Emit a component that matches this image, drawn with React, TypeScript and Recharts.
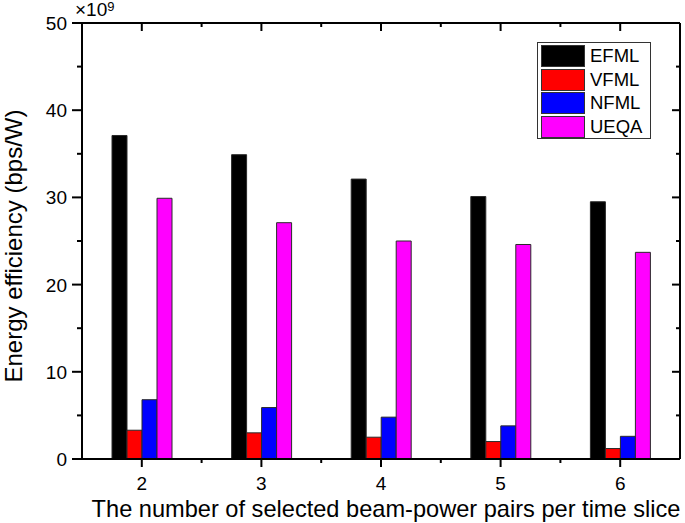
import React from "react";
import { BarChart, Bar, XAxis, YAxis } from "recharts";

const categories = ["2", "3", "4", "5", "6"];
const efml = [37.1, 34.9, 32.1, 30.1, 29.5];
const vfml = [3.3, 3.0, 2.5, 2.0, 1.2];
const nfml = [6.8, 5.9, 4.8, 3.8, 2.6];
const ueqa = [29.9, 27.1, 25.0, 24.6, 23.7];
const yTicks = [0, 5, 10, 15, 20, 25, 30, 35, 40, 45, 50];

const series = [
  { key: "EFML", color: "#000000" },
  { key: "VFML", color: "#ff0000" },
  { key: "NFML", color: "#0000ff" },
  { key: "UEQA", color: "#ff00ff" },
];

const data = categories.map((c, i) => ({
  k: c,
  EFML: efml[i],
  VFML: vfml[i],
  NFML: nfml[i],
  UEQA: ueqa[i],
}));

const FONT = "'Liberation Sans', Arial, sans-serif";
const SW = 2;
// plot frame edges (chart size minus margins/axis sizes)
const PLOT_TOP = 23;
const PLOT_RIGHT = 680;

const BottomTick = (props: any) => {
  const { x, y, payload, index } = props;
  const off = payload?.offset || 59.8;
  const last = index >= categories.length - 1;
  return (
    <g>
      <path d={`M${x},${y}V${y + 8}`} stroke="#000" strokeWidth={SW} fill="none" />
      {!last && <path d={`M${x + off},${y}V${y + 4}`} stroke="#000" strokeWidth={SW} fill="none" />}
      {/* mirrored ticks on the top frame */}
      <path d={`M${x},${PLOT_TOP}V${PLOT_TOP + 8}`} stroke="#000" strokeWidth={SW} fill="none" />
      {!last && <path d={`M${x + off},${PLOT_TOP}V${PLOT_TOP + 4}`} stroke="#000" strokeWidth={SW} fill="none" />}
      <text x={x} y={y + 31} textAnchor="middle" fontSize={19} fontFamily={FONT} fill="#000">
        {payload.value}
      </text>
    </g>
  );
};

const LeftTick = (props: any) => {
  const { x, y, payload } = props;
  const major = payload.value % 10 === 0;
  return (
    <g>
      <path d={`M${x},${y}H${x - (major ? 10 : 5)}`} stroke="#000" strokeWidth={SW} fill="none" />
      {/* mirrored ticks on the right frame */}
      <path d={`M${PLOT_RIGHT},${y}H${PLOT_RIGHT - (major ? 8 : 4)}`} stroke="#000" strokeWidth={SW} fill="none" />
      {major && (
        <text x={x - 15} y={y + 7} textAnchor="end" fontSize={19} fontFamily={FONT} fill="#000">
          {payload.value}
        </text>
      )}
    </g>
  );
};

const axisLine = { stroke: "#000", strokeWidth: SW };

export default function App() {
  return (
    <div style={{ position: "absolute", left: 0, top: 0, width: 685, height: 523, background: "#fff", fontFamily: FONT }}>
      <BarChart
        width={685}
        height={523}
        data={data}
        margin={{ top: 0, right: 4, bottom: 0, left: 0 }}
        barGap={0}
        barSize={15}
      >
        <XAxis
          xAxisId="bottom"
          dataKey="k"
          height={64}
          interval={0}
          tickSize={0}
          tickMargin={0}
          tickLine={false}
          axisLine={axisLine}
          tick={<BottomTick />}
        />
        <XAxis xAxisId="top" orientation="top" dataKey="k" height={23} tickLine={false} axisLine={axisLine} tick={false} />
        <YAxis
          yAxisId="left"
          type="number"
          domain={[0, 50]}
          ticks={yTicks}
          interval={0}
          width={82}
          tickSize={0}
          tickMargin={0}
          tickLine={false}
          axisLine={axisLine}
          tick={<LeftTick />}
        />
        <YAxis yAxisId="right" orientation="right" type="number" domain={[0, 50]} width={1} tickLine={false} axisLine={axisLine} tick={false} />
        {series.map((s) => (
          <Bar
            key={s.key}
            dataKey={s.key}
            xAxisId="bottom"
            yAxisId="left"
            fill={s.color}
            stroke="#2a2a2a"
            strokeWidth={1}
            isAnimationActive={false}
          />
        ))}
      </BarChart>

      <div style={{ position: "absolute", left: 75, top: 0, fontSize: 19, lineHeight: "20px", color: "#000", whiteSpace: "nowrap" }}>
        ×10<sup style={{ fontSize: 13, verticalAlign: "top", position: "relative", top: -3 }}>9</sup>
      </div>

      <div
        style={{
          position: "absolute",
          left: 14,
          top: 246,
          transform: "translate(-50%, -50%) rotate(-90deg)",
          whiteSpace: "nowrap",
          fontSize: 24,
          color: "#000",
        }}
      >
        Energy efficiency (bps/W)
      </div>

      <div
        style={{
          position: "absolute",
          left: 386,
          top: 509,
          transform: "translate(-50%, -50%)",
          whiteSpace: "nowrap",
          fontSize: 23.6,
          color: "#000",
        }}
      >
        The number of selected beam-power pairs per time slice
      </div>

      <div
        style={{
          position: "absolute",
          left: 537,
          top: 42,
          width: 114,
          height: 97,
          border: "1px solid #333",
          background: "#fff",
          boxSizing: "border-box",
        }}
      >
        {series.map((s, i) => (
          <div key={s.key} style={{ position: "absolute", left: 3, top: 2 + i * 23.7, height: 22, display: "flex", alignItems: "center" }}>
            <div style={{ width: 44, height: 22, background: s.color, border: "1px solid #333", boxSizing: "border-box" }} />
            <span style={{ marginLeft: 5, fontSize: 18.5, color: "#000" }}>{s.key}</span>
          </div>
        ))}
      </div>
    </div>
  );
}
